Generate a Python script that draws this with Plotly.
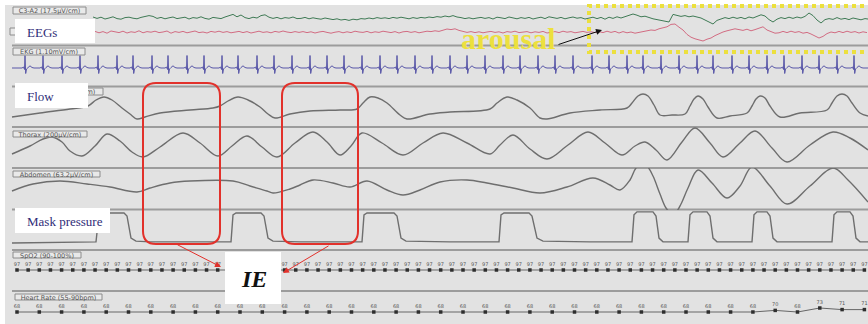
import plotly.graph_objects as go

W, H = 868, 324          # page size in px
T_END = 43.4             # seconds shown across the page

# ---------------- EEG (microvolts, sampled every 0.2 s) ----------------
eeg_dt = 0.2
c3_t0 = 4.65
c3_uv = [5, -2, 4, -5, 0, 6, -3, -6, 2, 4, -1, -4, 3, 7, 12,
         8, -2, 3, -4, 1, 5, -3, 0, 4, -5, 2, -1, 6, -2, -6, 3, 1, -3, 5, 10, 18, 6,
         15, 2, -3, 4, 0, 12, 16, 4, -2, 3, -4, 2, -1, 5, -3,
         -2, 3, -4, 1, -3, -6, 0, -5, -8, -4, -10, -7, -12, -6, -9, -3, -5, 0, -4, 2,
         -2, 1, -3, 3, -1, 4, 0, -4, 2, -2, 3, 0, 5, 2, 7, 4, 10, 6, 12, 5,
         2, -3, 1, -4, 0, 3, -2, 2, -5, 4, 1, -3, 5, 0, -4, 2, -2, 3, -5, 0,
         4, -3, 6, 2, -2, 3, -4, 1, 5, -1, 2, -5, 0, 4, -3,
         3, -6, 4, -2, 6, 0, 8, 12, 20, 14, 6, 9, 2, -4, -8, -12, -16, -20, 18, 12,
         8, 12, 6, 10, 4, 0, -10, -22, -30, -12, -4, 2, -3, 4, -2, 3, -4, 5, 0, 8,
         16, 10, -8, -20, -6, 2, -3, 4, -2, 5, 0, 8, 25, 12, -10, -25, -8, -3, -7, 2,
         -6, -2, -8, 0, -5, -9, -3, -6]
c4_t0 = 4.75
c4_uv = [3, -4, 2, -6, 5, 0, -3, 4, -5, 1, -2, 6, -4, 2, -1,
         4, -3, 0, 5, -6, 2, -2, 3, -4, 1, 5, -3, 0, -5, 3, -1, 4, -2, 2, -4, 1, 3,
         -3, 2, -5, 0, 4, -2, 1, -4, 3, -1, 5, 0, -3, 2, -2,
         2, -3, 1, -5, 0, 3, -2, -6, -1, 2, -4, 1, -3, 4, 0, -2, 3, -4, 1, -2,
         4, 0, -3, 2, -5, 1, 3, -2, 2, -4, 0, 4, 2, 6, 3, 9, 15, 12, 16, 8,
         3, -2, 2, -3, 1, -4, 0, 3, -2, 1, -5, 2, -1, 4, -3, 0, 2, -4, 1, -2,
         3, -5, 0, 2, -3, 4, -1, 2, -4, 0, 3, -2, 1, -3, 2,
         -3, 4, -2, 3, -5, 2, -4, 0, -6, -3, 2, 6, 10, 8, 16, 20, 26, 38, 40, 24,
         10, -12, -26, -34, -40, -45, -36, -30, -18, -8, 0, 6, 10, 16, 12, 8, 14, 6, 12, 20,
         26, 10, 2, -6, -4, 3, -3, 4, -2, 2, -6, -2, -10, -18, -30, -22, -8, 0, -4, 3,
         -3, 4, -2, 2, -5, 1, -3]

# ---------------- EKG (mV) ----------------
ekg_beats_s = [1.25, 2.15, 3.1, 4.0, 4.9, 5.85, 6.65, 7.6, 8.4, 9.35, 10.2, 11.1,
               11.9, 12.85, 13.7, 14.6, 15.5, 16.35, 17.2, 18.1, 19.0, 19.85, 20.75,
               21.6, 22.5, 23.35, 24.25, 25.15, 26.0, 26.9, 27.75, 28.65, 29.6, 30.45,
               31.35, 32.15, 33.05, 33.95, 34.85, 35.65, 36.6, 37.45, 38.35, 39.2,
               40.1, 40.95, 41.85, 42.7]
ekg_complex_dt = [-0.15, -0.075, -0.025, 0.0, 0.035, 0.075, 0.15, 0.25, 0.35, 0.45]
ekg_complex_mv = [0.0, 0.1, -0.15, 1.25, -0.55, -0.1, 0.05, 0.22, 0.05, 0.0]

# ---------------- Flow (L/min) ----------------
flow_t = [0.6, 2.0, 3.5, 4.4, 4.8, 5.2, 5.6, 6.1, 6.5, 6.85, 7.25, 8.0, 9.5, 10.65, 11.0,
          11.4, 11.9, 12.4, 13.0, 13.4, 13.75, 14.5, 15.5, 17.0, 17.85, 18.15, 18.5, 18.9,
          19.35, 20.0, 20.35, 21.5, 22.5, 24.5, 24.85, 25.35, 25.85, 26.5, 27.0, 27.35,
          28.5, 30.0, 31.35, 31.6, 31.9, 32.15, 32.4, 32.7, 33.0, 33.6, 34.25, 34.5, 34.7,
          34.9, 35.15, 35.4, 35.85, 36.5, 37.35, 37.6, 37.8, 38.0, 38.25, 38.5, 39.0, 40.0,
          41.35, 41.6, 41.85, 42.1, 42.35, 42.6, 43.0, 43.4]
flow_lpm = [-14, -6, 2, 8, 20, 26, 20, 4, -8, -18, -14, -6, 0, 4, 8, 18, 26, 20, 6, -8,
            -16, -8, -2, 0, 2, 14, 26, 24, 14, -10, -18, -8, -4, 2, 14, 26, 20, 4, -16, -18,
            -6, 0, 4, 14, 28, 32, 28, 10, -10, -10, -8, 8, 22, 28, 22, 6, -16, -12, -6, 8,
            22, 28, 24, 8, -14, -6, 0, 14, 28, 32, 28, 14, -6, -12]

# ---------------- Thorax effort (uV) ----------------
thorax_t = [0.6, 1.5, 2.15, 2.6, 3.1, 3.5, 4.1, 4.75, 5.35, 6.0, 6.6, 7.15, 8.0, 9.15, 10.0,
            10.9, 11.6, 12.35, 13.1, 13.85, 14.75, 15.65, 16.35, 17.0, 17.55, 18.1, 19.1,
            20.15, 21.15, 22.15, 23.35, 24.5, 25.0, 25.65, 26.5, 27.35, 28.4, 29.4, 30.25,
            31.1, 31.75, 32.25, 32.8, 33.35, 34.1, 34.75, 35.5, 36.15, 37.0, 37.75, 38.6,
            39.35, 40.5, 41.65, 42.5, 43.4]
thorax_uv = [-90, -10, 60, 80, 30, -60, -110, -10, 110, 40, -70, -120, -20, 120, 20, -110,
             -10, 90, -20, -120, 20, 130, 30, -100, -10, 120, 20, -100, 20, 120, 20, -90, 0,
             100, -40, -140, 0, 130, 20, -100, -10, 30, -50, -150, 30, 170, 20, -120, 20, 140,
             -30, -170, 0, 130, 70, -50]

# ---------------- Abdomen effort (uV) ----------------
abdomen_t = [0.6, 1.65, 3.0, 4.35, 5.5, 6.85, 7.5, 8.5, 9.5, 11.65, 12.5, 13.35, 13.65, 14.5,
             15.0, 15.65, 16.65, 17.5, 18.35, 19.35, 20.15, 21.0, 22.0, 23.35, 24.35, 25.65,
             27.0, 28.35, 29.65, 30.5, 31.0, 31.5, 31.8, 32.1, 32.35, 32.65, 33.0, 33.3,
             33.55, 33.8, 34.05, 34.4, 34.9, 35.6, 36.35, 37.0, 37.6, 38.5, 39.35, 40.5,
             41.65, 42.4, 43.4]
abdomen_uv = [-12, 16, 28, 16, 4, -16, 0, 20, 28, 28, 8, -12, -20, -4, 12, 32, 20, 4, 28, -8,
              -28, -8, 24, 32, 20, 0, -20, 4, 40, 12, -8, 32, 80, 96, 88, 48, -24, -80, -100,
              -96, -64, 0, 72, 20, -40, 8, 84, 8, -64, 8, 80, 32, -56]

# ---------------- Mask pressure (cmH2O) ----------------
mask_t = [0.6, 3.0, 4.8, 4.95, 5.1, 6.2, 6.35, 6.55, 6.8, 7.5, 11.55, 11.65, 11.8, 13.05,
          13.2, 13.4, 13.65, 15.0, 18.1, 18.2, 18.35, 19.7, 19.85, 20.05, 20.3, 22.5, 24.95,
          25.05, 25.2, 26.45, 26.6, 26.85, 27.15, 29.5, 31.6, 31.7, 31.85, 32.65, 32.8, 32.95,
          33.15, 34.4, 34.5, 34.65, 35.35, 35.5, 35.65, 35.85, 37.6, 37.7, 37.85, 38.35, 38.5,
          38.65, 38.85, 41.6, 41.7, 41.85, 42.5, 42.65, 42.8, 43.0, 43.4]
mask_cmh2o = [4.0, 4.1, 4.3, 11.7, 12.0, 12.0, 11.2, 5.3, 4.5, 4.3, 4.3, 11.5, 12.0, 12.0,
              11.2, 5.3, 4.5, 4.3, 4.3, 11.5, 12.0, 12.0, 11.2, 5.3, 4.5, 4.3, 4.3, 11.5, 12.0,
              12.0, 11.2, 5.3, 4.5, 4.3, 4.3, 11.5, 12.3, 12.3, 11.2, 5.3, 4.3, 4.3, 11.5, 12.3,
              12.3, 11.2, 5.3, 4.3, 4.3, 11.5, 12.3, 12.3, 11.2, 5.3, 4.3, 4.3, 11.5, 12.3, 12.3,
              11.2, 5.3, 4.3, 4.3]

# ---------------- SpO2 (%) and heart rate (bpm) ----------------
spo2_t0, spo2_dt = 0.85, 0.5575
spo2_pct = [97, 97, 97, 97, 97, 97, 97, 97, 97, 97, 97, 97, 97, 97, 97, 97, 97, 97, 97, 97,
            97, 97, 97, 97, 97, 97, 97, 97, 97, 97, 97, 97, 97, 97, 97, 97, 97, 97, 97, 97,
            97, 97, 97, 97, 97, 97, 97, 97, 97, 97, 97, 97, 97, 97, 97, 97, 97, 97, 97, 97,
            97, 97, 97, 97, 97, 97, 97, 97, 97, 97, 97, 97, 97, 97, 97, 97, 97]
hr_t0, hr_dt = 0.85, 1.115
hr_bpm = [68, 68, 68, 68, 68, 68, 68, 68, 68, 68, 68, 68, 68, 68, 68, 68, 68, 68, 68, 68,
          68, 68, 68, 68, 68, 68, 68, 68, 68, 68, 68, 68, 68, 68, 70, 68, 73, 71, 71]

# ---------------- channel labels ----------------
channel_labels = ["C3-A2 (17.5\u03bcV/cm)", "C4-A1 (17.5\u03bcV/cm)", "EKG (1.10mV/cm)",
                  "Flow (0.20L/s/cm)", "Thorax (200\u03bcV/cm)", "Abdomen (63.2\u03bcV/cm)",
                  "SpO2 (90-100%)", "Heart Rate (55-90bpm)"]
panel_titles = ["EEGs", "Flow", "Mask pressure"]


# ======================= drawing =======================
def px(x):
    return x / W


def py(y):
    return 1 - y / H


def dom(top, bottom):
    return [1 - bottom / H, 1 - top / H]


GRAY = "#6e6e6e"
fig = go.Figure()

c3_t = [c3_t0 + i * eeg_dt for i in range(len(c3_uv))]
c4_t = [c4_t0 + i * eeg_dt for i in range(len(c4_uv))]
fig.add_trace(go.Scatter(x=c3_t, y=c3_uv, yaxis="y", mode="lines",
                         line=dict(color="#3f7a55", width=1)))
fig.add_trace(go.Scatter(x=c4_t, y=c4_uv, yaxis="y2", mode="lines",
                         line=dict(color="#d26c82", width=1)))

ekg_t, ekg_mv = [0.6], [0.0]
for b in ekg_beats_s:
    for d, v in zip(ekg_complex_dt, ekg_complex_mv):
        ekg_t.append(b + d)
        ekg_mv.append(v)
ekg_t.append(T_END)
ekg_mv.append(0.0)
fig.add_trace(go.Scatter(x=ekg_t, y=ekg_mv, yaxis="y3", mode="lines",
                         line=dict(color="#5856a8", width=1)))

for t, v, ax in [(flow_t, flow_lpm, "y4"), (thorax_t, thorax_uv, "y5"),
                 (abdomen_t, abdomen_uv, "y6")]:
    fig.add_trace(go.Scatter(x=t, y=v, yaxis=ax, mode="lines",
                             line=dict(color=GRAY, width=1.4, shape="spline", smoothing=1.0)))

fig.add_trace(go.Scatter(x=mask_t, y=mask_cmh2o, yaxis="y7", mode="lines",
                         line=dict(color=GRAY, width=1.4)))

spo2_t = [spo2_t0 + i * spo2_dt for i in range(len(spo2_pct))]
fig.add_trace(go.Scatter(x=spo2_t, y=spo2_pct, yaxis="y8", mode="lines+markers+text",
                         text=[str(v) for v in spo2_pct], textposition="top center",
                         textfont=dict(size=5, color="#555555", family="DejaVu Sans"),
                         marker=dict(symbol="square", size=3.5, color="#2e2e2e"),
                         line=dict(color="#666666", width=1)))

hr_t = [hr_t0 + i * hr_dt for i in range(len(hr_bpm))]
fig.add_trace(go.Scatter(x=hr_t, y=hr_bpm, yaxis="y9", mode="lines+markers+text",
                         text=[str(v) for v in hr_bpm], textposition="top center",
                         textfont=dict(size=5, color="#555555", family="DejaVu Sans"),
                         marker=dict(symbol="square", size=3.5, color="#2e2e2e"),
                         line=dict(color="#666666", width=1)))

# channel bands (px from top) and value ranges
bands = {
    "yaxis":  (5, 45, [-135, 65]),
    "yaxis2": (5, 45, [-65, 135]),
    "yaxis3": (46, 86, [-1.8, 2.2]),
    "yaxis4": (87, 127, [-34, 46]),
    "yaxis5": (127, 168, [-230, 180]),
    "yaxis6": (168, 210, [-88, 80]),
    "yaxis7": (210, 250, [2.1333, 12.8]),
    "yaxis8": (250, 290, [92, 102]),
    "yaxis9": (291, 324, [53, 94.25]),
}
axes_layout = {}
for name, (top, bot, rng) in bands.items():
    axes_layout[name] = dict(domain=dom(top, bot), range=rng, visible=False,
                             fixedrange=True, anchor="x")

shapes = []
# page background
shapes.append(dict(type="rect", xref="paper", yref="paper", x0=px(5), x1=1.01,
                   y0=-0.01, y1=py(5), fillcolor="#e2e2e2", line=dict(width=0), layer="below"))
# channel separators
for ys in [45.5, 86.5, 127, 168, 209.5, 250, 291]:
    shapes.append(dict(type="line", xref="paper", yref="paper", x0=px(12), x1=1.0,
                       y0=py(ys), y1=py(ys), line=dict(color="#9c9c9c", width=2), layer="below"))

# small channel label boxes (text carried by the shape so later boxes can cover it)
label_boxes = [(13, 7, 86, 14), (10, 28, 83, 35), (13, 48, 85, 55), (30, 88, 103, 95),
               (13, 131, 87, 137), (13, 171, 100, 177), (13, 252, 81, 258), (15, 294, 102, 300)]
for (x0, y0, x1, y1), txt in zip(label_boxes, channel_labels):
    shapes.append(dict(type="rect", xref="paper", yref="paper", x0=px(x0), x1=px(x1),
                       y0=py(y1), y1=py(y0), fillcolor="#e9e9e9",
                       line=dict(color="#8c8c8c", width=1), layer="above",
                       label=dict(text=txt, textposition="middle center", padding=0,
                                  font=dict(family="DejaVu Sans", size=6.5, color="#555555"))))

# white title boxes
title_boxes = [(15, 19, 95, 43), (15, 83, 88, 108), (15, 208, 110, 233)]
for (x0, y0, x1, y1), txt in zip(title_boxes, panel_titles):
    shapes.append(dict(type="rect", xref="paper", yref="paper", x0=px(x0), x1=px(x1),
                       y0=py(y1), y1=py(y0), fillcolor="#ffffff", line=dict(width=0),
                       layer="above",
                       label=dict(text=txt, textposition="middle left", padding=9,
                                  font=dict(family="Liberation Serif", size=13, color="#2f2d78"))))


def rounded_box(x0, y0, x1, y1, r):
    return " ".join([
        f"M {px(x0 + r)},{py(y0)}", f"L {px(x1 - r)},{py(y0)}",
        f"Q {px(x1)},{py(y0)} {px(x1)},{py(y0 + r)}", f"L {px(x1)},{py(y1 - r)}",
        f"Q {px(x1)},{py(y1)} {px(x1 - r)},{py(y1)}", f"L {px(x0 + r)},{py(y1)}",
        f"Q {px(x0)},{py(y1)} {px(x0)},{py(y1 - r)}", f"L {px(x0)},{py(y0 + r)}",
        f"Q {px(x0)},{py(y0)} {px(x0 + r)},{py(y0)}", "Z"])


RED = "#e2312b"
for box in [(143, 83, 220, 244), (282, 83, 358, 244)]:
    shapes.append(dict(type="path", xref="paper", yref="paper", path=rounded_box(*box, 13),
                       line=dict(color=RED, width=2), layer="above"))

# IE label box
shapes.append(dict(type="rect", xref="paper", yref="paper", x0=px(225), x1=px(281),
                   y0=py(304), y1=py(252), fillcolor="#ffffff", line=dict(width=0), layer="above"))
annotations = []
annotations.append(dict(xref="paper", yref="paper", x=px(254), y=py(279), text="<b><i>IE</i></b>",
                        showarrow=False, xanchor="center", yanchor="middle",
                        font=dict(family="Liberation Serif", size=24, color="#111111")))
annotations.append(dict(xref="paper", yref="paper", x=px(221), y=py(267), text="",
                        showarrow=True, ax=-45, ay=-23, arrowhead=2, arrowsize=1.2,
                        arrowwidth=1, arrowcolor=RED))
annotations.append(dict(xref="paper", yref="paper", x=px(283), y=py(273), text="",
                        showarrow=True, ax=47, ay=-28, arrowhead=2, arrowsize=1.2,
                        arrowwidth=1, arrowcolor=RED))

# arousal marker
YEL = "#ece03e"
shapes.append(dict(type="path", xref="paper", yref="paper",
                   path=f"M {px(880)},{py(6)} L {px(589)},{py(6)} L {px(589)},{py(52)} L {px(880)},{py(52)}",
                   line=dict(color=YEL, width=4, dash="dot"), layer="above"))
annotations.append(dict(xref="paper", yref="paper", x=px(508), y=py(39), text="<b>arousal</b>",
                        showarrow=False, xanchor="center", yanchor="middle",
                        font=dict(family="Liberation Serif", size=30, color=YEL)))
annotations.append(dict(xref="paper", yref="paper", x=px(602), y=py(30), text="",
                        showarrow=True, ax=-45, ay=15, arrowhead=2, arrowsize=1.2,
                        arrowwidth=1, arrowcolor="#111111"))

fig.update_layout(
    width=W, height=H, autosize=False,
    margin=dict(l=0, r=0, t=0, b=0, pad=0),
    paper_bgcolor="#ffffff", plot_bgcolor="rgba(0,0,0,0)",
    showlegend=False,
    xaxis=dict(domain=[0, 1], range=[0, T_END], visible=False, fixedrange=True),
    shapes=shapes, annotations=annotations,
    **axes_layout,
)

fig.write_html("out.html", config={"displayModeBar": False, "staticPlot": True})
